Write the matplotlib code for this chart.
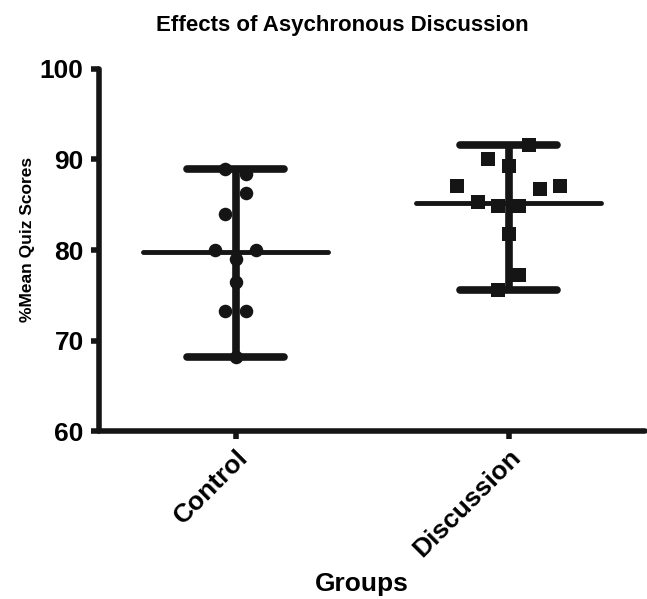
import matplotlib.pyplot as plt
import numpy as np

plt.rcParams['font.family'] = ['Liberation Sans', 'DejaVu Sans']
plt.rcParams['font.weight'] = 'bold'

groups = ['Control', 'Discussion']
control = [89.0, 88.4, 86.3, 84.0, 80.0, 80.0, 79.0, 76.5, 73.3, 73.3, 68.2]
discussion = [91.6, 90.1, 89.3, 87.1, 86.7, 87.1, 85.3, 84.9, 84.9, 81.8, 77.3, 75.6]
# horizontal spread of the dots inside each column (category units)
control_dx = [-0.037, 0.037, 0.037, -0.039, -0.076, 0.074, 0.0, 0.0, -0.039, 0.037, 0.0]
discussion_dx = [0.076, -0.076, 0.0, -0.19, 0.114, 0.19, -0.113, -0.037, 0.037, 0.0, 0.037, -0.039]

fig, ax = plt.subplots(figsize=(6.47, 5.99), dpi=100)
fig.subplots_adjust(left=0.153, right=0.997, bottom=0.280, top=0.885)

c = '#151515'
for i, (vals, dx, mk) in enumerate([(control, control_dx, 'o'), (discussion, discussion_dx, 's')]):
    vals = np.array(vals)
    lo, hi, m = vals.min(), vals.max(), vals.mean()
    ax.plot([i, i], [lo, hi], color=c, lw=5.5, solid_capstyle='butt', zorder=2)
    ax.plot([i - 0.176, i + 0.176], [lo, lo], color=c, lw=5.5, solid_capstyle='round', zorder=2)
    ax.plot([i - 0.176, i + 0.176], [hi, hi], color=c, lw=5.5, solid_capstyle='round', zorder=2)
    ax.plot([i - 0.34, i + 0.34], [m, m], color=c, lw=3.5, solid_capstyle='round', zorder=2)
    ax.scatter(i + np.array(dx), vals, marker=mk, s=95, color=c, zorder=3, linewidths=0)

ax.set_xlim(-0.5, 1.5)
ax.set_ylim(60, 100)
ax.set_yticks([60, 70, 80, 90, 100])
ax.set_xticks([0, 1])
ax.set_xticklabels(groups, rotation=45, ha='right', rotation_mode='anchor')
for sp in ['top', 'right']:
    ax.spines[sp].set_visible(False)
for sp in ['left', 'bottom']:
    ax.spines[sp].set_linewidth(4)
    ax.spines[sp].set_color(c)
    ax.spines[sp].set_capstyle('round')
ax.tick_params(axis='both', width=4, length=6, color=c, labelsize=19, pad=4)
ax.tick_params(axis='y', pad=5)

fig.text(342 / 647, 1 - 25 / 599, 'Effects of Asychronous Discussion', fontsize=16,
         fontweight='bold', ha='center', va='center')
ax.set_ylabel('%Mean Quiz Scores', fontsize=12.5, fontweight='bold')
ax.yaxis.set_label_coords(-0.117, 0.53)
ax.set_xlabel('Groups', fontsize=19, fontweight='bold')
ax.xaxis.set_label_coords(0.482, -0.387)

fig.savefig('out.png', dpi=100)
